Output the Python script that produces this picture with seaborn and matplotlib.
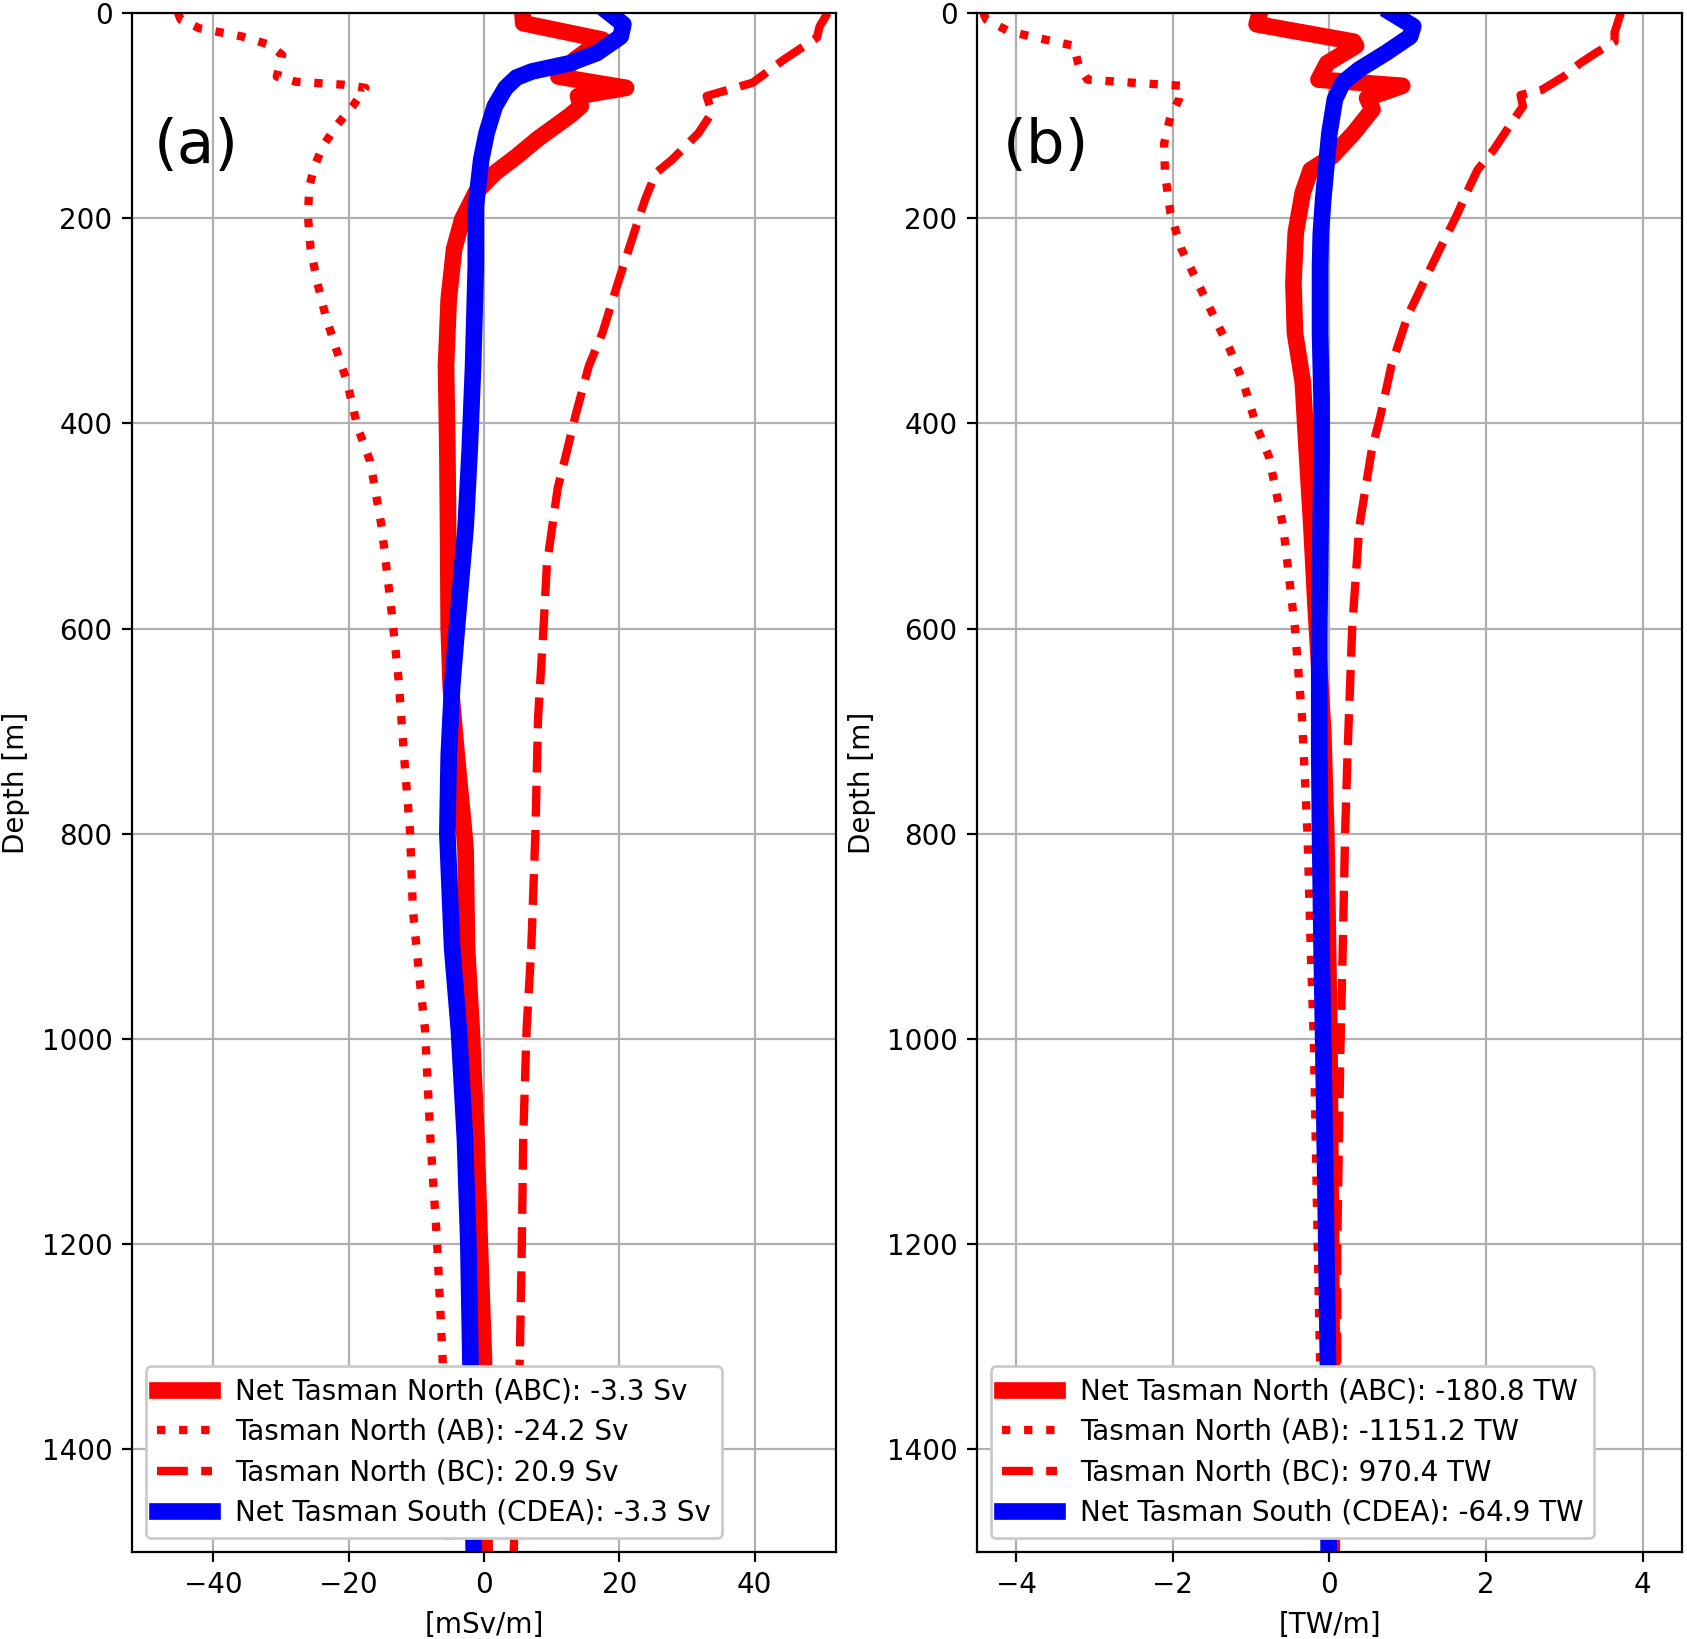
import numpy as np
import pandas as pd
import matplotlib
matplotlib.use("Agg")
import matplotlib.pyplot as plt
import seaborn as sns

# ---------------- Panel (a): volume transport [mSv/m] ----------------
a_net_north_depth = [0, 10, 26, 45, 62, 73, 81, 91, 100, 123, 140, 156, 175, 201, 230, 279, 344,
                     426, 501, 600, 657, 724, 800, 817, 911, 991, 1098, 1200, 1312, 1500]
a_net_north_val = [5.7, 5.8, 17.5, 13.5, 11.0, 21.0, 13.9, 14.3, 12.7, 7.9, 4.8, 1.6, -1.2, -3.2,
                   -4.4, -5.2, -5.6, -5.4, -5.3, -5.2, -4.9, -4.0, -2.9, -2.7, -2.5, -1.8, -1.1,
                   -0.6, 0.0, 0.1]

a_ab_depth = [0, 6.5, 15, 23, 31, 41, 62, 67, 70, 73, 91, 110, 130, 149, 169, 198, 230, 263, 295,
              328, 360, 403, 437, 501, 586, 650, 724, 799, 874, 948, 991, 1098, 1200, 1312, 1500]
a_ab_val = [-45.2, -44.8, -42.0, -35.7, -31.7, -29.8, -30.6, -27.8, -20.6, -17.5, -19.4, -21.8,
            -23.8, -25.0, -25.8, -26.0, -25.6, -24.6, -23.4, -21.8, -20.2, -18.7, -16.8, -15.1,
            -13.6, -12.6, -11.8, -10.9, -10.5, -9.4, -8.7, -7.9, -6.9, -6.1, -5.0]

a_bc_depth = [0, 13, 24, 45, 68, 81, 97, 117, 143, 156, 182, 214, 263, 312, 344, 393, 426, 463,
              538, 600, 687, 800, 911, 991, 1098, 1200, 1312, 1500]
a_bc_val = [50.8, 49.6, 49.2, 44.4, 39.7, 32.9, 33.7, 31.7, 27.8, 25.4, 23.8, 22.2, 19.8, 17.5,
            15.5, 13.5, 12.3, 10.9, 9.3, 8.8, 8.0, 7.6, 7.0, 6.3, 5.8, 5.6, 5.3, 4.4]

a_south_depth = [0, 11, 23, 39, 49, 57, 63, 73, 91, 117, 143, 166, 188, 247, 344, 426, 501, 600,
                 657, 724, 800, 911, 991, 1098, 1200, 1312, 1500]
a_south_val = [18.5, 20.6, 20.2, 16.7, 12.7, 7.1, 4.8, 3.2, 1.6, 0.4, -0.4, -0.8, -1.2, -1.2,
               -1.6, -2.1, -2.7, -4.0, -4.7, -5.2, -5.4, -4.7, -3.7, -2.8, -2.3, -2.0, -1.5]

a_labels = ["Net Tasman North (ABC): -3.3 Sv", "Tasman North (AB): -24.2 Sv",
            "Tasman North (BC): 20.9 Sv", "Net Tasman South (CDEA): -3.3 Sv"]

# ---------------- Panel (b): heat transport [TW/m] ----------------
b_net_north_depth = [0, 11, 28, 32, 49, 65, 71, 83, 94, 117, 140, 153, 175, 214, 263, 312, 360,
                     426, 501, 574, 700, 800, 1000, 1200, 1312, 1500]
b_net_north_val = [-0.89, -0.93, 0.31, 0.34, -0.03, -0.14, 0.93, 0.48, 0.55, 0.31, 0.03, -0.24,
                   -0.34, -0.43, -0.46, -0.44, -0.34, -0.29, -0.23, -0.18, -0.08, -0.04, 0.0,
                   0.02, 0.03, 0.03]

b_ab_depth = [0, 6.5, 18, 28, 32, 52, 65, 68, 71, 84, 101, 127, 156, 195, 230, 263, 295, 328,
              360, 403, 433, 501, 600, 687, 800, 911, 1000, 1200, 1312, 1500]
b_ab_val = [-4.42, -4.38, -4.09, -3.51, -3.26, -3.2, -3.09, -2.51, -1.89, -1.92, -2.03, -2.11,
            -2.1, -2.03, -1.89, -1.68, -1.48, -1.27, -1.1, -0.93, -0.77, -0.59, -0.44, -0.35,
            -0.28, -0.24, -0.2, -0.15, -0.12, -0.08]

b_bc_depth = [0, 19, 28, 39, 49, 62, 75, 80, 91, 110, 133, 153, 169, 198, 230, 263, 295, 344,
              393, 426, 501, 600, 724, 800, 911, 1010, 1200, 1312, 1500]
b_bc_val = [3.72, 3.64, 3.64, 3.4, 3.2, 2.99, 2.71, 2.44, 2.47, 2.3, 2.1, 1.89, 1.79, 1.62, 1.41,
            1.2, 1.0, 0.79, 0.65, 0.54, 0.38, 0.29, 0.23, 0.20, 0.17, 0.14, 0.10, 0.10, 0.08]

b_south_depth = [0, 13, 23, 39, 55, 68, 84, 117, 149, 182, 215, 247, 312, 377, 426, 600, 724,
                 800, 911, 1000, 1200, 1312, 1500]
b_south_val = [0.79, 1.07, 1.03, 0.72, 0.38, 0.17, 0.07, 0.0, -0.04, -0.08, -0.11, -0.12, -0.12,
               -0.1, -0.10, -0.13, -0.13, -0.12, -0.10, -0.08, -0.04, -0.02, -0.01]

b_labels = ["Net Tasman North (ABC): -180.8 TW", "Tasman North (AB): -1151.2 TW",
            "Tasman North (BC): 970.4 TW", "Net Tasman South (CDEA): -64.9 TW"]

panel_tags = ["(a)", "(b)"]
x_labels = ["[mSv/m]", "[TW/m]"]
y_label = "Depth [m]"
y_ticks = [0, 200, 400, 600, 800, 1000, 1200, 1400]
a_xticks = [-40, -20, 0, 20, 40]
b_xticks = [-4, -2, 0, 2, 4]

plt.rcParams["font.family"] = ["DejaVu Sans"]

fig = plt.figure(figsize=(1687 / 200, 1639 / 200), dpi=200)
ax1 = fig.add_axes([0.0782, 0.0531, 0.4173, 0.9390])
ax2 = fig.add_axes([0.5791, 0.0531, 0.4179, 0.9390])

styles = [dict(color="red", lw=6, linestyle="-"),
          dict(color="red", lw=3, linestyle=":"),
          dict(color="red", lw=3, linestyle="--"),
          dict(color="blue", lw=6, linestyle="-")]

panels = [
    (ax1, [(a_net_north_val, a_net_north_depth), (a_ab_val, a_ab_depth),
           (a_bc_val, a_bc_depth), (a_south_val, a_south_depth)], a_labels, a_xticks, 52, 0.031),
    (ax2, [(b_net_north_val, b_net_north_depth), (b_ab_val, b_ab_depth),
           (b_bc_val, b_bc_depth), (b_south_val, b_south_depth)], b_labels, b_xticks, 4.5, 0.036),
]

for i, (ax, series, labels, xt, lim, tagx) in enumerate(panels):
    for (vals, dep), lab, st in zip(series, labels, styles):
        df = pd.DataFrame({"x": vals, "depth": dep})
        sns.lineplot(data=df, x="x", y="depth", sort=False, estimator=None, ax=ax,
                     label=lab, **st)
    ax.set_ylim(1500, 0)
    ax.set_xlim(-lim, lim)
    ax.set_yticks(y_ticks)
    ax.set_xticks(xt)
    ax.grid(True, color="#b0b0b0", lw=0.8)
    ax.set_axisbelow(True)
    ax.set_xlabel(x_labels[i], fontsize=10)
    ax.set_ylabel(y_label, fontsize=10)
    ax.tick_params(labelsize=10)
    ax.legend(loc="lower left", fontsize=10, framealpha=1.0, labelspacing=0.45)
    ax.text(tagx, 0.913, panel_tags[i], transform=ax.transAxes, fontsize=22,
            ha="left", va="center")

fig.savefig("out.png", dpi=200)
